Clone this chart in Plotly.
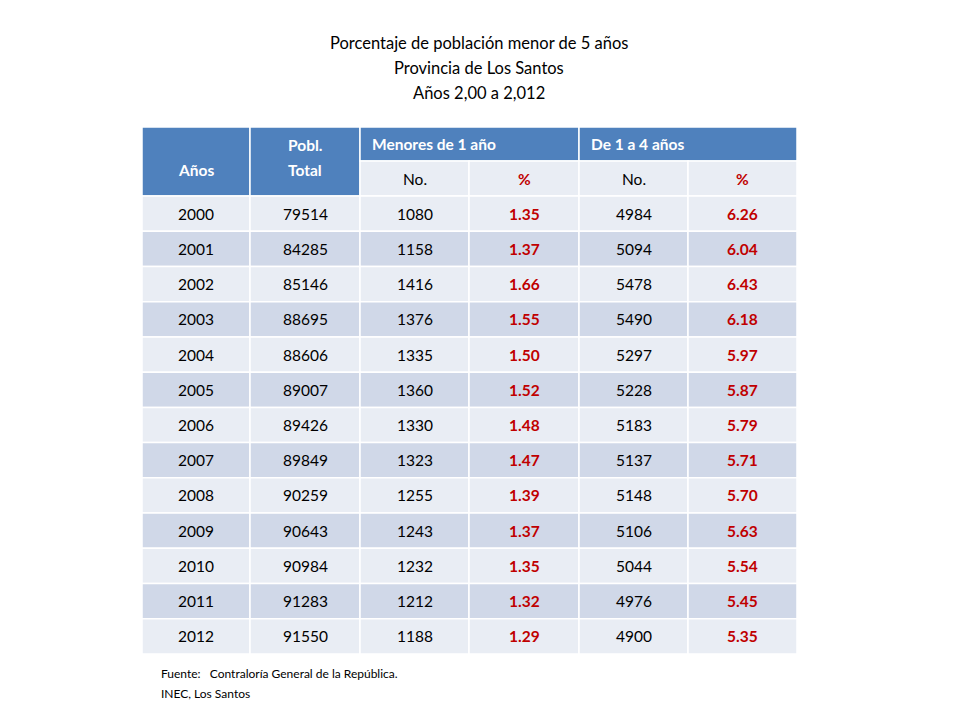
import plotly.graph_objects as go

years = [2000,2001,2002,2003,2004,2005,2006,2007,2008,2009,2010,2011,2012]
pobl = [79514,84285,85146,88695,88606,89007,89426,89849,90259,90643,90984,91283,91550]
m1_no = [1080,1158,1416,1376,1335,1360,1330,1323,1255,1243,1232,1212,1188]
m1_pct = ["1.35","1.37","1.66","1.55","1.50","1.52","1.48","1.47","1.39","1.37","1.35","1.32","1.29"]
m4_no = [4984,5094,5478,5490,5297,5228,5183,5137,5148,5106,5044,4976,4900]
m4_pct = ["6.26","6.04","6.43","6.18","5.97","5.87","5.79","5.71","5.70","5.63","5.54","5.45","5.35"]
title_lines = ["Porcentaje de población menor de 5 años", "Provincia de Los Santos", "Años 2,00 a 2,012"]
source_lines = ["Fuente:   Contraloría General de la República.", "INEC, Los Santos"]

xe = [143, 251, 361, 470, 580, 689, 798]
yh = [128, 162, 197]
rh = (655 - 197) / 13
BLUE = "#4f81bd"; L1 = "#e9edf4"; L2 = "#d0d8e8"; RED = "#c00000"
F = "Lato"

fig = go.Figure()
shapes, ann = [], []
def rect(x0, y0, x1, y1, fill):
    shapes.append(dict(type="rect", x0=x0, x1=x1, y0=y0, y1=y1, xref="x", yref="y",
                       fillcolor=fill, line=dict(color="white", width=1.5), layer="below"))
def txt(x, y, s, color="black", bold=False, size=15.5, anchor="center"):
    ann.append(dict(x=x, y=y, xref="x", yref="y", text=f"<b>{s}</b>" if bold else s,
                    showarrow=False, xanchor=anchor, yanchor="middle",
                    font=dict(family=F, size=size, color=color)))

rect(xe[0], yh[0], xe[1], yh[2], BLUE)
rect(xe[1], yh[0], xe[2], yh[2], BLUE)
rect(xe[2], yh[0], xe[4], yh[1], BLUE)
rect(xe[4], yh[0], xe[6], yh[1], BLUE)
txt((xe[0]+xe[1])/2, 171, "Años", "white", True)
txt((xe[1]+xe[2])/2, 146, "Pobl.", "white", True)
txt((xe[1]+xe[2])/2, 171, "Total", "white", True)
txt(xe[2]+10, 145, "Menores de 1 año", "white", True, anchor="left")
txt(xe[4]+10, 145, "De 1 a 4 años", "white", True, anchor="left")
for i, (lab, red) in enumerate([("No.", False), ("%", True), ("No.", False), ("%", True)]):
    c = 2 + i
    rect(xe[c], yh[1], xe[c+1], yh[2], L1)
    txt((xe[c]+xe[c+1])/2, (yh[1]+yh[2])/2, lab, RED if red else "black", red)

for r in range(len(years)):
    y0 = yh[2] + r*rh; y1 = y0 + rh; ym = (y0+y1)/2
    fill = L1 if r % 2 == 0 else L2
    vals = [years[r], pobl[r], m1_no[r], m1_pct[r], m4_no[r], m4_pct[r]]
    for c in range(6):
        rect(xe[c], y0, xe[c+1], y1, fill)
        red = c in (3, 5)
        txt((xe[c]+xe[c+1])/2, ym, str(vals[c]), RED if red else "black", red)

for i, s in enumerate(title_lines):
    txt(480, 44 + 25*i, s, size=16.5)
for i, s in enumerate(source_lines):
    txt(160, 674 + 20*i, s, size=12, anchor="left")

OFF = 9
fig.update_layout(width=960, height=720, margin=dict(l=0, r=0, t=0, b=0),
                  paper_bgcolor="white", plot_bgcolor="white", shapes=shapes, annotations=ann,
                  xaxis=dict(range=[OFF, 960 + OFF], visible=False, fixedrange=True),
                  yaxis=dict(range=[720 + OFF, OFF], visible=False, fixedrange=True), showlegend=False)
fig.write_html("out.html")
